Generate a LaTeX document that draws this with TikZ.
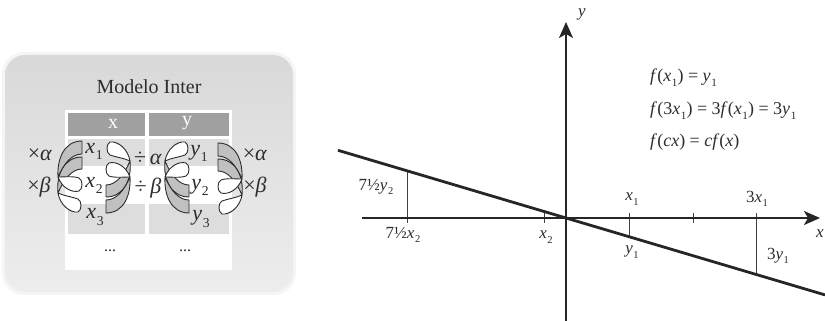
\documentclass[tikz,border=0pt]{standalone}
\usepackage{fontspec}
\usepackage{graphicx}
\setmainfont{Liberation Serif}
\usetikzlibrary{arrows.meta}
\newcommand\mv[1]{\textit{#1}}
\newcommand\sbs[1]{\kern.04em\raisebox{-.6ex}{\scalebox{.62}{#1}}}
\definecolor{ink}{RGB}{45,45,45}
\definecolor{hdrgray}{RGB}{160,160,160}
\definecolor{cellgray}{RGB}{221,221,221}
\definecolor{ribfill}{RGB}{192,192,192}
\tikzset{
  ribgray/.style={fill=ribfill, draw=ink, line width=0.9pt, line join=round},
  ribwhite/.style={fill=white, draw=ink, line width=0.9pt, line join=round},
  ribbon/.pic={
    % lower ribbon
    \filldraw[ribgray] (0,16) -- (0,28) .. controls (-10,28) and (-18,38) .. (-24,52) .. controls (-26,34) and (-18,16) .. (0,16) -- cycle;
    \filldraw[ribwhite] (-24,52) .. controls (-18,55) and (-9,56) .. (-4,58) .. controls (0,60) and (0,69) .. (-4,71) .. controls (-12,72) and (-22,64) .. (-24,52) -- cycle;
    % upper ribbon
    \filldraw[ribgray] (0,0) -- (0,13) .. controls (-10,13) and (-18,22) .. (-24,36) .. controls (-25,18) and (-18,0) .. (0,0) -- cycle;
    \filldraw[ribwhite] (-24,36) .. controls (-18,36) and (-8,35) .. (-3,37) .. controls (1,39) and (1,48) .. (-3,50) .. controls (-10,52) and (-20,47) .. (-24,36) -- cycle;
  },
  tmath/.style={font=\fontsize{22}{24}\selectfont, text=ink, inner sep=0pt},
  lbl/.style={font=\fontsize{17}{20}\selectfont, text=ink, inner sep=0pt},
  frm/.style={font=\fontsize{18}{21}\selectfont, text=ink, inner sep=0pt, anchor=west},
  axis/.style={line width=1.8pt, draw=black!85},
  fline/.style={line width=2.8pt, draw=black!85},
  thin/.style={line width=0.9pt, draw=black!75},
  arrowtip/.style={-{Stealth[length=16pt,width=14pt,inset=4pt]}},
}
\begin{document}
\begin{tikzpicture}[x=1pt,y=-1pt]
\useasboundingbox (0,0) rectangle (825,321);
% ---------- left panel ----------
\fill[gray!8, rounded corners=22pt] (2,52) rectangle (296,295);
\shade[rounded corners=20pt, top color=gray!30, bottom color=gray!14] (5,55) rectangle (293,292);
\node[font=\fontsize{20}{22}\selectfont, text=ink] (title) at (149,87) {Modelo Inter};
\fill[white] (65,110) rectangle (232,270);
\fill[hdrgray] (68,113) rectangle (145,136);
\fill[hdrgray] (149,113) rectangle (229,136);
\fill[cellgray] (68,139) rectangle (145,166);
\fill[cellgray] (149,139) rectangle (229,166);
\fill[cellgray] (68,204) rectangle (145,234);
\fill[cellgray] (149,204) rectangle (229,234);
\node[font=\fontsize{20}{22}\selectfont, text=white] (hx) at (113,124) {x};
\node[font=\fontsize{20}{22}\selectfont, text=white] (hy) at (187,123) {y};
\pic at (82,141) {ribbon};
\pic[rotate=180] at (106,213) {ribbon};
\pic[yscale=-1] at (189,213) {ribbon};
\pic[xscale=-1] at (218,143) {ribbon};
\node[tmath] (x1) at (94,151) {\mv{x}\sbs{1}};
\node[tmath] (x2) at (94,185) {\mv{x}\sbs{2}};
\node[tmath] (x3) at (95,217) {\mv{x}\sbs{3}};
\node[tmath] (y1) at (199,153) {\mv{y}\sbs{1}};
\node[tmath] (y2) at (200,187) {\mv{y}\sbs{2}};
\node[tmath] (y3) at (201,219) {\mv{y}\sbs{3}};
\node[tmath] (da) at (148,158) {÷\,\mv{α}};
\node[tmath] (db) at (148,188) {÷\,\mv{β}};
\node[tmath] (ma) at (40,155) {×\mv{α}};
\node[tmath] (mb) at (39,187) {×\mv{β}};
\node[tmath] (ra) at (255,155) {×\mv{α}};
\node[tmath] (rb) at (255,187) {×\mv{β}};
\node[font=\fontsize{16}{18}\selectfont, text=ink] (d1) at (110,251) {...};
\node[font=\fontsize{16}{18}\selectfont, text=ink] (d2) at (185,251) {...};
% ---------- graph ----------
\coordinate (O) at (566,218);
\coordinate (xs) at (362,218);
\coordinate (xe) at (820,218);
\coordinate (ys) at (566,321);
\coordinate (ye) at (566,22);
\coordinate (L1) at (338,150.3);
\coordinate (L2) at (825,294.9);
\coordinate (t1a) at (629,213); \coordinate (t1b) at (629,236.7);
\coordinate (t2a) at (693,213); \coordinate (t2b) at (693,223);
\coordinate (t3a) at (756,213); \coordinate (t3b) at (756,274.4);
\coordinate (t4a) at (407,170.8); \coordinate (t4b) at (407,223);
\coordinate (t5a) at (544,211.5); \coordinate (t5b) at (544,223);
\draw[thin] (t1a) -- (t1b);
\draw[thin] (t2a) -- (t2b);
\draw[thin] (t3a) -- (t3b);
\draw[thin] (t4a) -- (t4b);
\draw[thin] (t5a) -- (t5b);
\draw[axis, arrowtip] (xs) -- (xe);
\draw[axis, arrowtip] (ys) -- (ye);
\draw[fline] (L1) -- (L2);
\node[lbl] (ylab) at (582,14) {\mv{y}};
\node[lbl, anchor=west] (xlab) at (816,234) {\mv{x}};
\node[lbl] (lx1) at (632,199) {\mv{x}\sbs{1}};
\node[lbl] (ly1) at (632,252) {\mv{y}\sbs{1}};
\node[lbl] (l3x1) at (757,199) {3\mv{x}\sbs{1}};
\node[lbl] (l3y1) at (778,256) {3\mv{y}\sbs{1}};
\node[lbl] (l7y2) at (376,187) {7½\mv{y}\sbs{2}};
\node[lbl] (l7x2) at (403,235) {7½\mv{x}\sbs{2}};
\node[lbl] (lx2) at (546,237) {\mv{x}\sbs{2}};
\node[frm] (f1) at (650,78) {\mv{f}(\mv{x}\sbs{1}) = \mv{y}\sbs{1}};
\node[frm] (f2) at (650,111) {\mv{f}(3\mv{x}\sbs{1}) = 3\mv{f}(\mv{x}\sbs{1}) = 3\mv{y}\sbs{1}};
\node[frm] (f3) at (650,142) {\mv{f}(\mv{cx}) = \mv{cf}(\mv{x})};
\end{tikzpicture}
\end{document}
